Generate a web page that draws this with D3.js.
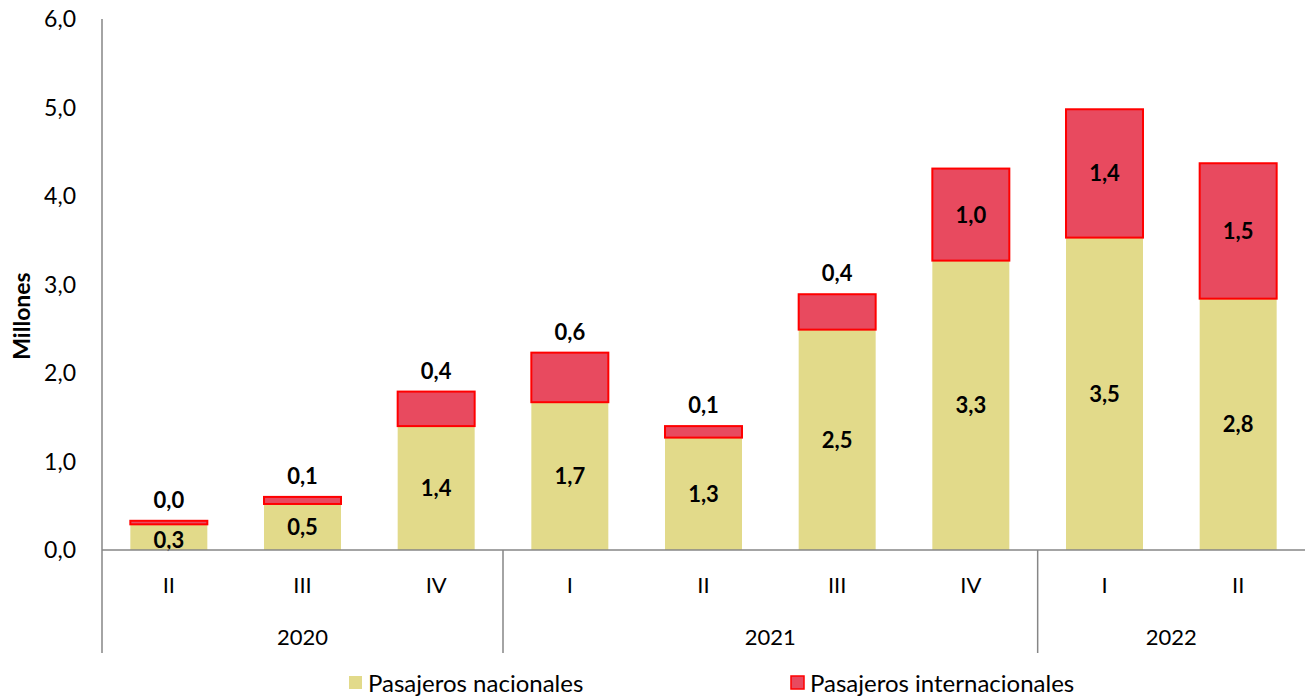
<!DOCTYPE html>
<html><head><meta charset="utf-8">
<script src="https://cdn.jsdelivr.net/npm/d3@7"></script>
<style>body{margin:0;background:#fff}svg{display:block}text{font-family:Lato,"Open Sans",sans-serif}</style>
</head><body><svg id="c" width="1305" height="698"></svg>
<script>
const quarters = ["II","III","IV","I","II","III","IV","I","II"];
const years = ["2020","2020","2020","2021","2021","2021","2021","2022","2022"];
const nacionales = [0.29,0.52,1.40,1.67,1.27,2.49,3.27,3.53,2.84];
const internacionales = [0.04,0.08,0.39,0.56,0.13,0.40,1.04,1.45,1.53];
const yTicks = [0,1,2,3,4,5,6];
const seriesNames = ["Pasajeros nacionales","Pasajeros internacionales"];

const svg = d3.select("#c");
const L = 102, R = 1305, T = 19, B = 550;
const fmt = v => d3.format(".1f")(v).replace(".", ",");
const x = d3.scaleBand().domain(d3.range(quarters.length)).range([L, R]).paddingInner(0.424).paddingOuter(0.212);
const y = d3.scaleLinear().domain([0,6]).range([B, T]);
const grey = "#868686";
const colN = "#E2DA8A", colI = "#E84A5F", strokeI = "#FF0000";

// y axis
svg.append("line").attr("x1",L).attr("x2",L).attr("y1",T).attr("y2",653).attr("stroke",grey).attr("stroke-width",1.5);
svg.selectAll(".yt").data(yTicks).enter().append("text")
  .attr("x",76).attr("y",d=>y(d)).attr("dy","0.36em").attr("text-anchor","end")
  .attr("font-size",23).attr("fill","#000").text(d=>fmt(d));
svg.append("text").attr("transform",`translate(22,316) rotate(-90)`).attr("text-anchor","middle").attr("dy","0.36em")
  .attr("font-size",23).attr("font-weight","bold").text("Millones");

// bars
const g = svg.append("g");
quarters.forEach((q,i)=>{
  const n = nacionales[i], it = internacionales[i];
  g.append("rect").attr("x",x(i)).attr("width",x.bandwidth()).attr("y",y(n)).attr("height",y(0)-y(n)).attr("fill",colN);
  g.append("rect").attr("x",x(i)).attr("width",x.bandwidth()).attr("y",y(n+it)).attr("height",y(n)-y(n+it))
    .attr("fill",colI).attr("stroke",strokeI).attr("stroke-width",2);
  const cx = x(i)+x.bandwidth()/2;
  g.append("text").attr("x",cx).attr("y",(y(0)+y(n))/2 + (i===0?3:0)).attr("dy","0.36em").attr("text-anchor","middle")
    .attr("font-size",22).attr("font-weight","bold").text(fmt(n));
  const inside = (y(n)-y(n+it)) > 60;
  g.append("text").attr("x",cx).attr("y", inside ? (y(n)+y(n+it))/2 : y(n+it)-21).attr("dy","0.36em").attr("text-anchor","middle")
    .attr("font-size",22).attr("font-weight","bold").text(fmt(it));
});

// x axis
svg.append("line").attr("x1",L).attr("x2",R).attr("y1",B).attr("y2",B).attr("stroke",grey).attr("stroke-width",1.5);
svg.selectAll(".qt").data(quarters).enter().append("text")
  .attr("x",(d,i)=>x(i)+x.bandwidth()/2).attr("y",585).attr("dy","0.36em").attr("text-anchor","middle")
  .attr("font-size",22).text(d=>d);
const groups = d3.groups(d3.range(years.length), i=>years[i]);
const step = x.step();
groups.forEach(([yr, idx])=>{
  const x0 = L + idx[0]*step, x1 = L + (idx[idx.length-1]+1)*step;
  svg.append("text").attr("x",(x0+x1)/2).attr("y",637).attr("dy","0.36em").attr("text-anchor","middle").attr("font-size",22).text(yr);
  if (idx[0] > 0) svg.append("line").attr("x1",x0).attr("x2",x0).attr("y1",B).attr("y2",653).attr("stroke",grey).attr("stroke-width",1.5);
});

// legend
const lg = [[348,seriesNames[0],colN,"none"],[790,seriesNames[1],colI,strokeI]];
lg.forEach(([lx,name,fill,st])=>{
  svg.append("rect").attr("x",lx+1).attr("y",676).attr("width",13).attr("height",13).attr("fill",fill).attr("stroke",st).attr("stroke-width",st==="none"?0:1.5);
  svg.append("text").attr("x",lx+20).attr("y",683).attr("dy","0.36em").attr("font-size",24).text(name);
});
</script></body></html>
